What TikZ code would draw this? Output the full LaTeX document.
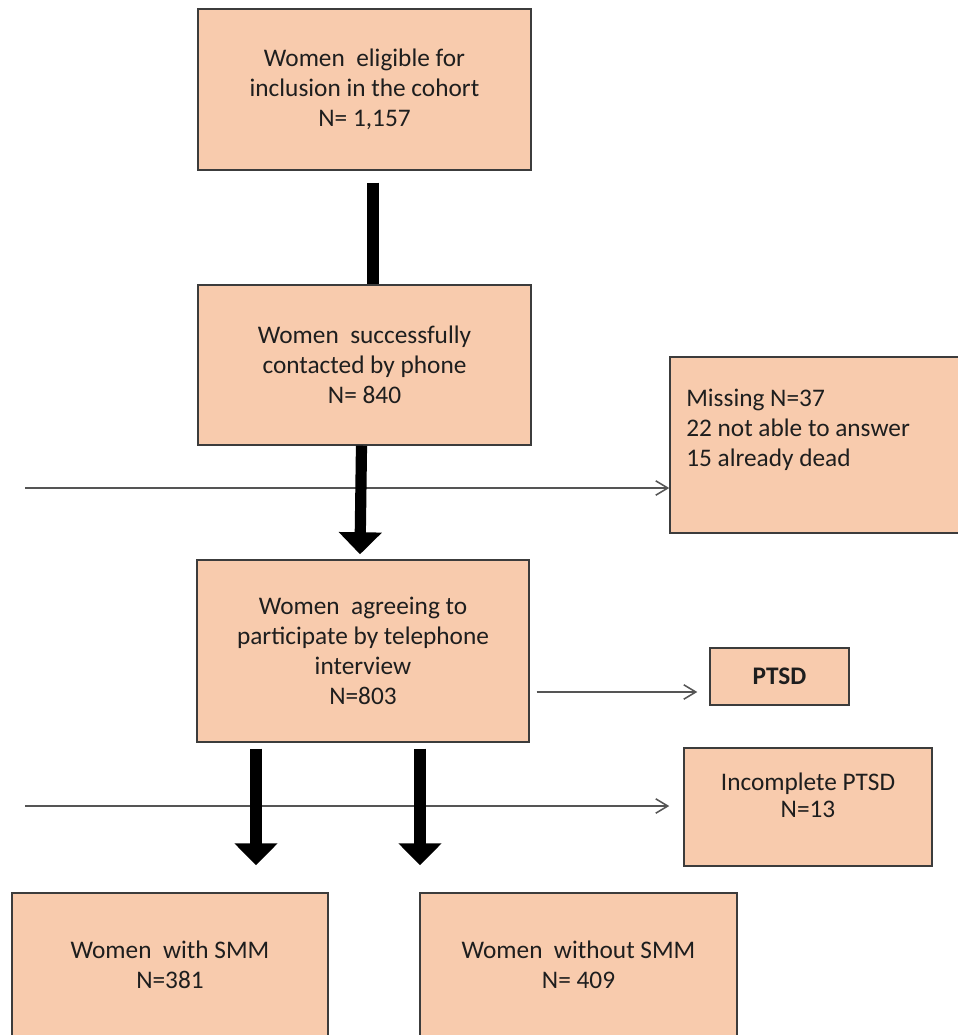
\documentclass[tikz,border=0pt]{standalone}
\usepackage{fontspec}
\setmainfont{Carlito}
\usetikzlibrary{arrows.meta,calc}
\definecolor{boxfill}{RGB}{248,203,173}
\definecolor{boxline}{RGB}{60,60,60}
\definecolor{thingray}{RGB}{85,85,85}
\definecolor{txtdark}{RGB}{30,30,30}

\tikzset{
  flowbox/.style={draw=boxline, line width=1pt, fill=boxfill, align=center,
    text=txtdark, inner sep=0pt, font=\fontsize{18}{21.3}\selectfont},
  boxtext/.style={text=txtdark, inner sep=0pt, font=\fontsize{18}{21.3}\selectfont},
  thickarr/.style={line width=0.28cm, -{Triangle[width=1.05cm,length=0.55cm]}},
  thinarr/.style={draw=thingray, line width=1.1pt, -{Straight Barb[length=0.3cm,width=0.36cm]}}
}

\begin{document}
\begin{tikzpicture}[x=0.025cm, y=-0.025cm]

% Page
\useasboundingbox (0,0) rectangle (958,1035);

% Boxes
\node[flowbox, minimum width=8.325cm, minimum height=4.025cm] (elig) at (364.5,89.5)
  {Women\ \ eligible for\\inclusion in the cohort\\N= 1,157};
\node[flowbox, minimum width=8.325cm, minimum height=4cm] (contact) at (364.5,365)
  {Women\ \ successfully\\contacted by phone\\N= 840};
\node[flowbox, minimum width=7.5cm, minimum height=4.4cm] (miss) at (820,445) {};
\node[boxtext, align=left, anchor=west] (misstxt) at (686,430)
  {Missing N=37\\22 not able to answer\\15 already dead};
\node[flowbox, minimum width=8.3cm, minimum height=4.55cm] (agree) at (363,651)
  {Women\ \ agreeing to\\participate by telephone\\interview\\N=803};
\node[flowbox, minimum width=3.475cm, minimum height=1.425cm,
  font=\fontsize{18}{21.3}\selectfont\bfseries] (ptsd) at (779.5,676.5) {PTSD};
\node[flowbox, minimum width=6.2cm, minimum height=2.95cm] (incomp) at (808,807) {};
\node[boxtext, align=center, font=\fontsize{18}{19}\selectfont] (incomptxt) at (808,795)
  {Incomplete PTSD\\N=13};
\node[flowbox, minimum width=7.9cm, minimum height=3.6cm] (smm) at (170,965)
  {Women\ \ with SMM\\N=381};
\node[flowbox, minimum width=7.925cm, minimum height=3.6cm] (nosmm) at (578.5,965)
  {Women\ \ without SMM\\N= 409};

% Side lines
\coordinate (in1) at (25,488);
\coordinate (in2) at (25,806);
\coordinate (out1) at ($(agree.east)+(7,41)$);
\draw[thinarr] (in1) -- (in1 -| miss.west);
\draw[thinarr] (in2) -- ([xshift=-0.35cm]in2 -| incomp.west);
\draw[thinarr] (out1) -- ([xshift=-0.3cm]out1 -| ptsd.west);

% Thick arrows
\draw[line width=0.3cm] ($(elig.south)+(8,12)$) -- ($(contact.north)+(8,0)$);
\draw[thickarr] ($(contact.south)+(-3,0)$) -- ($(agree.north)+(-3,-5)$);
\coordinate (a3) at ($(agree.south)+(-107,6)$);
\coordinate (a4) at ($(agree.south)+(57,6)$);
\draw[thickarr] (a3) -- ([yshift=0.675cm]a3 |- smm.north);
\draw[thickarr] (a4) -- ([yshift=0.675cm]a4 |- nosmm.north);

\end{tikzpicture}
\end{document}
